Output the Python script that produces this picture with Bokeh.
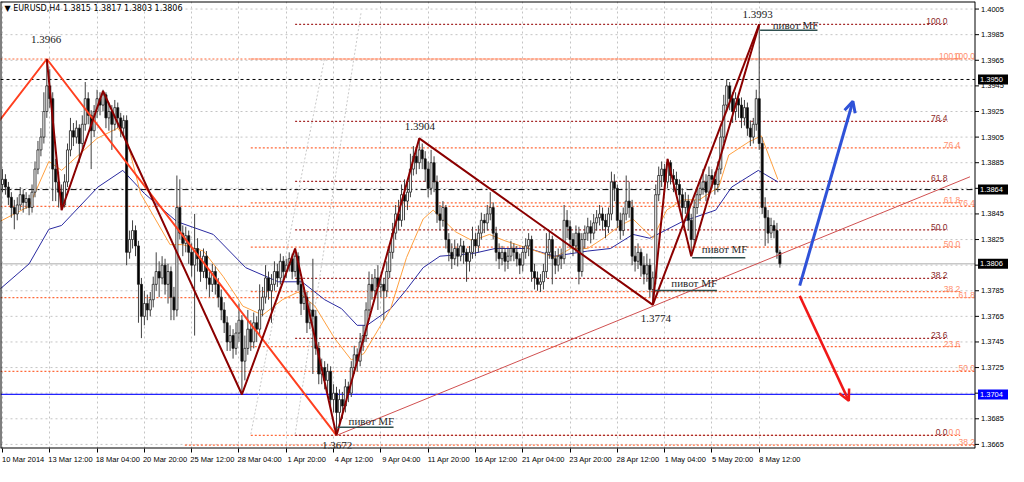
from bokeh.plotting import figure
from bokeh.models import (FixedTicker, Range1d, Label, Arrow, OpenHead, ColumnDataSource)
from bokeh.core.properties import value
from bokeh.embed import file_html
from bokeh.resources import INLINE

# ---------------- data ----------------
first_open = 1.3868
close = [1.3872, 1.3866, 1.3858, 1.3850, 1.3845, 1.3852, 1.3860, 1.3854, 1.3857, 1.3850,
         1.3862, 1.3880, 1.3895, 1.3905, 1.3925, 1.3945, 1.3935, 1.3880, 1.3870, 1.3862,
         1.3852, 1.3870, 1.3895, 1.3910, 1.3905, 1.3912, 1.3900, 1.3915, 1.3935, 1.3922,
         1.3910, 1.3925, 1.3935, 1.3930, 1.3938, 1.3920, 1.3925, 1.3915, 1.3928, 1.3920,
         1.3912, 1.3918, 1.3815, 1.3825, 1.3832, 1.3820, 1.3790, 1.3765, 1.3775, 1.3770,
         1.3778, 1.3790, 1.3800, 1.3795, 1.3805, 1.3790, 1.3800, 1.3780, 1.3770, 1.3850,
         1.3830, 1.3822, 1.3828, 1.3815, 1.3805, 1.3818, 1.3810, 1.3800, 1.3812, 1.3795,
         1.3790, 1.3800, 1.3790, 1.3780, 1.3770, 1.3760, 1.3745, 1.3750, 1.3740, 1.3752,
         1.3762, 1.3730, 1.3740, 1.3755, 1.3745, 1.3760, 1.3755, 1.3770, 1.3780, 1.3795,
         1.3785, 1.3790, 1.3800, 1.3795, 1.3808, 1.3800, 1.3805, 1.3810, 1.3800, 1.3812,
         1.3790, 1.3775, 1.3780, 1.3760, 1.3770, 1.3765, 1.3740, 1.3720, 1.3725, 1.3715,
         1.3722, 1.3700, 1.3705, 1.3690, 1.3700, 1.3695, 1.3710, 1.3705, 1.3725, 1.3735,
         1.3730, 1.3745, 1.3750, 1.3770, 1.3790, 1.3785, 1.3795, 1.3788, 1.3790, 1.3785,
         1.3800, 1.3815, 1.3830, 1.3845, 1.3840, 1.3860, 1.3855, 1.3862, 1.3880, 1.3890,
         1.3885, 1.3895, 1.3888, 1.3880, 1.3865, 1.3885, 1.3870, 1.3845, 1.3840, 1.3850,
         1.3825, 1.3815, 1.3810, 1.3818, 1.3812, 1.3820, 1.3815, 1.3808, 1.3815, 1.3825,
         1.3820, 1.3830, 1.3840, 1.3838, 1.3845, 1.3850, 1.3830, 1.3815, 1.3810, 1.3815,
         1.3808, 1.3812, 1.3818, 1.3815, 1.3810, 1.3805, 1.3815, 1.3820, 1.3825, 1.3800,
         1.3795, 1.3790, 1.3792, 1.3800, 1.3815, 1.3825, 1.3810, 1.3805, 1.3812, 1.3810,
         1.3840, 1.3835, 1.3825, 1.3820, 1.3830, 1.3800, 1.3825, 1.3830, 1.3835, 1.3830,
         1.3838, 1.3842, 1.3845, 1.3840, 1.3835, 1.3845, 1.3870, 1.3865, 1.3840, 1.3832,
         1.3845, 1.3855, 1.3850, 1.3812, 1.3808, 1.3815, 1.3805, 1.3798, 1.3805, 1.3786,
         1.3795, 1.3860, 1.3875, 1.3880, 1.3870, 1.3885, 1.3875, 1.3872, 1.3868, 1.3860,
         1.3850, 1.3855, 1.3840, 1.3825, 1.3850, 1.3860, 1.3865, 1.3870, 1.3862, 1.3875,
         1.3872, 1.3868, 1.3880, 1.3905, 1.3930, 1.3945, 1.3935, 1.3925, 1.3935, 1.3930,
         1.3920, 1.3928, 1.3912, 1.3905, 1.3915, 1.3935, 1.3900, 1.3850, 1.3842, 1.3830,
         1.3836, 1.3832, 1.3815, 1.3806]
high = [1.3880, 1.3876, 1.3870, 1.3862, 1.3856, 1.3858, 1.3866, 1.3864, 1.3862, 1.3860,
        1.3868, 1.3886, 1.3902, 1.3912, 1.3940, 1.3966, 1.3958, 1.3940, 1.3888, 1.3878,
        1.3868, 1.3876, 1.3900, 1.3920, 1.3916, 1.3918, 1.3915, 1.3922, 1.3948, 1.3940,
        1.3926, 1.3930, 1.3942, 1.3940, 1.3942, 1.3940, 1.3932, 1.3930, 1.3934, 1.3932,
        1.3924, 1.3922, 1.3922, 1.3832, 1.3840, 1.3836, 1.3824, 1.3795, 1.3785, 1.3782,
        1.3784, 1.3796, 1.3815, 1.3808, 1.3812, 1.3810, 1.3806, 1.3804, 1.3788, 1.3875,
        1.3872, 1.3836, 1.3835, 1.3832, 1.3822, 1.3845, 1.3826, 1.3816, 1.3818, 1.3816,
        1.3800, 1.3806, 1.3804, 1.3795, 1.3786, 1.3776, 1.3765, 1.3758, 1.3755, 1.3760,
        1.3775, 1.3766, 1.3750, 1.3770, 1.3762, 1.3768, 1.3765, 1.3790, 1.3788, 1.3805,
        1.3800, 1.3798, 1.3808, 1.3806, 1.3814, 1.3812, 1.3810, 1.3815, 1.3814, 1.3818,
        1.3815, 1.3794, 1.3788, 1.3784, 1.3776, 1.3810, 1.3770, 1.3745, 1.3732, 1.3730,
        1.3728, 1.3726, 1.3712, 1.3710, 1.3708, 1.3706, 1.3716, 1.3714, 1.3730, 1.3742,
        1.3740, 1.3752, 1.3758, 1.3776, 1.3800, 1.3798, 1.3802, 1.3805, 1.3797, 1.3795,
        1.3808, 1.3822, 1.3838, 1.3852, 1.3856, 1.3868, 1.3872, 1.3870, 1.3892, 1.3898,
        1.3896, 1.3904, 1.3900, 1.3894, 1.3886, 1.3895, 1.3890, 1.3875, 1.3852, 1.3855,
        1.3852, 1.3830, 1.3822, 1.3825, 1.3822, 1.3826, 1.3824, 1.3818, 1.3820, 1.3835,
        1.3830, 1.3836, 1.3846, 1.3845, 1.3852, 1.3862, 1.3854, 1.3835, 1.3822, 1.3820,
        1.3818, 1.3818, 1.3824, 1.3822, 1.3820, 1.3814, 1.3820, 1.3826, 1.3830, 1.3828,
        1.3806, 1.3800, 1.3798, 1.3806, 1.3830, 1.3832, 1.3828, 1.3816, 1.3818, 1.3818,
        1.3852, 1.3848, 1.3840, 1.3830, 1.3836, 1.3835, 1.3830, 1.3836, 1.3842, 1.3840,
        1.3845, 1.3848, 1.3852, 1.3850, 1.3845, 1.3850, 1.3878, 1.3876, 1.3868, 1.3846,
        1.3850, 1.3875, 1.3870, 1.3856, 1.3820, 1.3822, 1.3818, 1.3812, 1.3814, 1.3810,
        1.3800, 1.3868, 1.3882, 1.3886, 1.3884, 1.3888, 1.3887, 1.3880, 1.3878, 1.3872,
        1.3865, 1.3862, 1.3860, 1.3845, 1.3856, 1.3866, 1.3872, 1.3880, 1.3876, 1.3882,
        1.3880, 1.3878, 1.3886, 1.3912, 1.3938, 1.3950, 1.3948, 1.3940, 1.3940, 1.3938,
        1.3936, 1.3934, 1.3932, 1.3918, 1.3920, 1.3942, 1.3993, 1.3905, 1.3858, 1.3848,
        1.3842, 1.3840, 1.3838, 1.3817]
low = [1.3862, 1.3860, 1.3852, 1.3842, 1.3833, 1.3840, 1.3848, 1.3846, 1.3849, 1.3844,
       1.3846, 1.3858, 1.3876, 1.3890, 1.3900, 1.3920, 1.3928, 1.3855, 1.3855, 1.3850,
       1.3848, 1.3850, 1.3866, 1.3890, 1.3898, 1.3900, 1.3885, 1.3895, 1.3910, 1.3915,
       1.3880, 1.3905, 1.3920, 1.3922, 1.3925, 1.3912, 1.3910, 1.3895, 1.3910, 1.3912,
       1.3905, 1.3906, 1.3805, 1.3810, 1.3818, 1.3812, 1.3760, 1.3748, 1.3758, 1.3762,
       1.3765, 1.3772, 1.3785, 1.3780, 1.3790, 1.3782, 1.3775, 1.3762, 1.3762, 1.3765,
       1.3825, 1.3812, 1.3815, 1.3806, 1.3796, 1.3750, 1.3800, 1.3792, 1.3795, 1.3786,
       1.3780, 1.3784, 1.3782, 1.3772, 1.3762, 1.3752, 1.3738, 1.3738, 1.3732, 1.3735,
       1.3745, 1.3704, 1.3715, 1.3735, 1.3738, 1.3740, 1.3745, 1.3750, 1.3765, 1.3775,
       1.3778, 1.3760, 1.3785, 1.3788, 1.3790, 1.3792, 1.3795, 1.3800, 1.3794, 1.3796,
       1.3785, 1.3766, 1.3770, 1.3752, 1.3755, 1.3720, 1.3735, 1.3712, 1.3712, 1.3708,
       1.3705, 1.3692, 1.3690, 1.3672, 1.3680, 1.3685, 1.3690, 1.3698, 1.3702, 1.3720,
       1.3722, 1.3726, 1.3738, 1.3745, 1.3765, 1.3778, 1.3780, 1.3770, 1.3780, 1.3762,
       1.3780, 1.3795, 1.3810, 1.3825, 1.3832, 1.3835, 1.3840, 1.3848, 1.3858, 1.3875,
       1.3876, 1.3880, 1.3880, 1.3870, 1.3858, 1.3860, 1.3862, 1.3838, 1.3832, 1.3835,
       1.3818, 1.3808, 1.3802, 1.3805, 1.3804, 1.3808, 1.3806, 1.3792, 1.3800, 1.3810,
       1.3812, 1.3815, 1.3825, 1.3830, 1.3832, 1.3840, 1.3825, 1.3808, 1.3802, 1.3805,
       1.3800, 1.3802, 1.3808, 1.3808, 1.3804, 1.3798, 1.3800, 1.3810, 1.3812, 1.3792,
       1.3786, 1.3785, 1.3784, 1.3786, 1.3795, 1.3810, 1.3790, 1.3798, 1.3800, 1.3802,
       1.3806, 1.3826, 1.3818, 1.3812, 1.3815, 1.3790, 1.3796, 1.3818, 1.3824, 1.3822,
       1.3825, 1.3832, 1.3836, 1.3832, 1.3826, 1.3830, 1.3840, 1.3855, 1.3834, 1.3825,
       1.3828, 1.3840, 1.3842, 1.3805, 1.3800, 1.3802, 1.3796, 1.3790, 1.3792, 1.3780,
       1.3774, 1.3790, 1.3855, 1.3866, 1.3862, 1.3865, 1.3868, 1.3862, 1.3860, 1.3852,
       1.3842, 1.3845, 1.3832, 1.3812, 1.3820, 1.3845, 1.3855, 1.3860, 1.3855, 1.3858,
       1.3865, 1.3860, 1.3862, 1.3876, 1.3900, 1.3925, 1.3926, 1.3916, 1.3918, 1.3920,
       1.3912, 1.3914, 1.3906, 1.3898, 1.3900, 1.3910, 1.3895, 1.3845, 1.3820, 1.3822,
       1.3826, 1.3826, 1.3810, 1.3803]

# moving averages (control points: bar index, price)
ma_fast_bar = [-1, 9, 15.7, 20, 32, 39, 42.3, 46.7, 56.7, 61, 68, 74.7, 81.3, 88, 94.7, 100,
               105.7, 112.3, 118, 122.3, 131.3, 136.7, 142.3, 145.7, 153.3, 159, 164.7, 170,
               178, 186.7, 192.3, 198, 203.3, 209, 213.3, 220, 224.7, 230, 235.7, 242.3,
               245.7, 252.3, 256.7, 262.3]
ma_fast_val = [1.3839, 1.3851, 1.3886, 1.3879, 1.3904, 1.3912, 1.3901, 1.3861, 1.3821, 1.3821,
               1.3816, 1.3796, 1.3773, 1.3766, 1.3778, 1.3784, 1.3773, 1.3748, 1.3731, 1.3736,
               1.3771, 1.3811, 1.3841, 1.3848, 1.3831, 1.3824, 1.3829, 1.3824, 1.3818, 1.3811,
               1.3818, 1.3818, 1.3826, 1.3836, 1.3841, 1.3826, 1.3848, 1.3856, 1.3856, 1.3866,
               1.3891, 1.3901, 1.3906, 1.3872]
ma_slow_bar = [-1, 9, 15.7, 20, 32.3, 40.7, 48, 59, 71.3, 82.3, 93.3, 101.3, 109, 114.7, 120,
               123.3, 131.3, 136.7, 142.3, 148, 159, 166.7, 178, 186.7, 198, 205.7, 213.3, 219,
               230, 241.3, 246.7, 255.7, 262.3]
ma_slow_val = [1.3786, 1.3806, 1.3833, 1.3836, 1.3866, 1.3879, 1.3861, 1.3839, 1.3829, 1.3803,
               1.3792, 1.3792, 1.3778, 1.3771, 1.3758, 1.3758, 1.3771, 1.3786, 1.3803, 1.3812,
               1.3814, 1.3818, 1.3818, 1.3812, 1.3816, 1.3818, 1.3829, 1.3826, 1.3839, 1.3848,
               1.3866, 1.3879, 1.3870]

# zigzags / trend line (bar index, price)
zig_bar = [15, 20, 34, 81, 99, 113, 141, 220, 225, 233, 256]
zig_val = [1.3966, 1.3848, 1.3941, 1.3704, 1.3818, 1.3672, 1.3904, 1.3774, 1.3888, 1.3812, 1.3993]
zig2_bar = [220, 256]
zig2_val = [1.3774, 1.3993]
red_bar = [-1, 15, 113]
red_val = [1.3918, 1.3966, 1.3672]
trend_bar = [113, 327.3]
trend_val = [1.3672, 1.3874]
fan_bar = [[84, 109], [99, 121.3]]
fan_val = [[1.3673, 1.3967], [1.3673, 1.4002]]

# horizontal levels
lvl_black_dash = 1.3950
lvl_black_dashdot = 1.3864
lvl_blue = 1.3704
lvl_last = 1.3806

# fibonacci sets: (price at 0 %, price at 100 %, first bar, last bar, levels)
fib_pct = [0.0, 23.6, 38.2, 50.0, 61.8, 76.4, 100.0]
fib_dark = (1.3672, 1.3993, 99, 319.7, fib_pct)
fib_orange_a = (1.3672, 1.3966, 84, 324, fib_pct)
fib_orange_b = (1.3478, 1.3966, -0.7, 329, [38.2, 50.0, 61.8, 76.4, 100.0])
fib_b_start = [61.7, -0.7, -0.7, -0.7, -0.7]

# price labels & pivot notes
price_lbl_bar = [14.8, 141.2, 221, 113.2, 255.5]
price_lbl_val = [1.39811, 1.39134, 1.37634, 1.36643, 1.40004]
price_lbl_txt = ["1.3966", "1.3904", "1.3774", "1.3672", "1.3993"]
pivot_txt_bar = [124.8, 234, 244.3, 268.3]
pivot_txt_val = [1.36829, 1.37912, 1.38176, 1.39929]
pivot_line_x0 = [113.3, 220.7, 233.3, 256.3]
pivot_line_x1 = [132.3, 241.7, 251.3, 275.7]
pivot_line_val = [1.36784, 1.37852, 1.38108, 1.39884]

# arrows (bar, price)
arrow_up = (269.7, 1.3789, 287.7, 1.3933)
arrow_dn = (269.7, 1.3781, 286.3, 1.3699)

# axes
price_ticks = [1.3665, 1.3685, 1.3705, 1.3725, 1.3745, 1.3765, 1.3785, 1.3805, 1.3825,
               1.3845, 1.3865, 1.3885, 1.3905, 1.3925, 1.3945, 1.3965, 1.3985, 1.4005]
date_bars = [0, 16, 32, 48, 64, 80, 96, 112, 128, 144, 160, 176, 192, 208, 224, 240, 256]
date_labels = ["10 Mar 2014", "13 Mar 12:00", "18 Mar 04:00", "20 Mar 20:00", "25 Mar 12:00",
               "28 Mar 04:00", "1 Apr 20:00", "4 Apr 12:00", "9 Apr 04:00", "11 Apr 20:00",
               "16 Apr 12:00", "21 Apr 04:00", "23 Apr 20:00", "28 Apr 12:00", "1 May 04:00",
               "5 May 20:00", "8 May 12:00"]
hl_val = [1.3950, 1.3864, 1.3806, 1.3704]
hl_txt = ["1.3950", "1.3864", "1.3806", "1.3704"]
hl_bg = ["black", "black", "black", "#0000FF"]
title_txt = "\u25bc EURUSD,H4  1.3815 1.3817 1.3803 1.3806"

# ---------------- figure ----------------
W, H = 1008, 466
X0 = -0.67            # left edge of the chart
XF = 329.0            # right edge of the price frame (price scale drawn to its right)
PXB = 2.956           # pixels per bar
X1 = X0 + W / PXB     # canvas right edge
Y0, Y1 = 1.36618, 1.40109
p = figure(width=W, height=H, x_range=Range1d(X0, X1), y_range=Range1d(Y0, Y1),
           y_axis_location=None, output_backend="svg", toolbar_location=None,
           min_border_left=0, min_border_top=1, min_border_right=0, min_border_bottom=0,
           background_fill_color="white", border_fill_color="white")
p.outline_line_color = None

AX_FONT = "Liberation Sans"
AX_SIZE = "7.5px"
# x axis: labels start at their tick marks
lbl_pos = [b + 7 for b in date_bars]
p.xaxis.ticker = FixedTicker(ticks=lbl_pos, minor_ticks=date_bars)
p.xaxis.major_label_overrides = {pos: t for pos, t in zip(lbl_pos, date_labels)}
p.xaxis.major_tick_line_color = None
p.xaxis.major_tick_out = 3
p.xaxis.major_tick_in = 0
p.xaxis.minor_tick_line_color = "black"
p.xaxis.minor_tick_out = 4
p.xaxis.minor_tick_in = 0
p.xaxis.major_label_standoff = 2
p.xaxis.major_label_text_font = AX_FONT
p.xaxis.major_label_text_font_size = AX_SIZE
p.xaxis.major_label_text_color = "black"
p.xaxis.axis_line_color = None

p.xgrid.ticker = FixedTicker(ticks=date_bars)
p.xgrid.grid_line_color = "#C4C4C4"
p.xgrid.grid_line_dash = "2 3"
p.ygrid.visible = False

# horizontal grid (price ticks) limited to the chart frame
p.segment(x0=[X0] * len(price_ticks), y0=price_ticks, x1=[XF] * len(price_ticks),
          y1=price_ticks, line_color="#C4C4C4", line_width=1, line_dash="2 3")

# horizontal level lines
p.segment(x0=[X0], y0=[lvl_last], x1=[XF], y1=[lvl_last], line_color="#C8C8C8", line_width=1.5)
p.segment(x0=[X0], y0=[lvl_black_dash], x1=[XF], y1=[lvl_black_dash], line_color="black",
          line_width=1, line_dash="3 3")
p.segment(x0=[X0], y0=[lvl_black_dashdot], x1=[XF], y1=[lvl_black_dashdot], line_color="black",
          line_width=1, line_dash="6 3 2 3")
p.segment(x0=[X0], y0=[lvl_blue], x1=[XF], y1=[lvl_blue], line_color="#2323FF", line_width=1.3)

# fibonacci levels
def fib_set(spec, starts, line_color, text_color):
    lo, hi, b0, b1, pcts = spec
    ys = [lo + (hi - lo) * q / 100.0 for q in pcts]
    x0s = starts if starts is not None else [b0] * len(pcts)
    p.segment(x0=x0s, y0=ys, x1=[b1] * len(pcts), y1=ys, line_color=line_color,
              line_width=1.2, line_dash="2 2")
    p.text(x=[b1] * len(pcts), y=ys, text=["%.1f" % q for q in pcts],
           text_font=value(AX_FONT), text_font_size="8.5px", text_color=text_color,
           text_align="right", text_baseline="bottom")

fib_set(fib_orange_b, fib_b_start, "#FF6A3A", "#FF9070")
fib_set(fib_orange_a, None, "#FF6A3A", "#FF9070")
fib_set(fib_dark, None, "#A52A2A", "#8B2A2A")

# faint fan lines
for fx, fy in zip(fan_bar, fan_val):
    p.line(fx, fy, line_color="#C8C8C8", line_width=1, line_dash="2 2")

# moving averages
p.line(ma_slow_bar, ma_slow_val, line_color="#2A2AA0", line_width=1)
p.line(ma_fast_bar, ma_fast_val, line_color="#FFA040", line_width=1)

# candles
n = min(len(close), len(high), len(low))
opens = [first_open] + close[:n - 1]
src = ColumnDataSource(dict(
    x=list(range(n)), h=high[:n], l=low[:n],
    top=[max(o, c) for o, c in zip(opens, close[:n])],
    bot=[min(o, c) for o, c in zip(opens, close[:n])],
    fill=["white" if c >= o else "black" for o, c in zip(opens, close[:n])]))
p.segment(x0="x", y0="l", x1="x", y1="h", source=src, line_color="#404040", line_width=1)
p.vbar(x="x", width=0.7, top="top", bottom="bot", source=src, fill_color="fill",
       line_color="#1E1E1E", line_width=0.8)

# zigzags
p.line(red_bar, red_val, line_color="#FF4020", line_width=2)
p.line(zig_bar, zig_val, line_color="#8B0000", line_width=2)
p.line(zig2_bar, zig2_val, line_color="#8B0000", line_width=2)
p.line(trend_bar, trend_val, line_color="#D05050", line_width=1)

# arrows
p.add_layout(Arrow(end=OpenHead(size=11, line_color="#2F52D8", line_width=3),
                   x_start=arrow_up[0], y_start=arrow_up[1], x_end=arrow_up[2], y_end=arrow_up[3],
                   line_color="#2F52D8", line_width=3))
p.add_layout(Arrow(end=OpenHead(size=11, line_color="#F01818", line_width=2.5),
                   x_start=arrow_dn[0], y_start=arrow_dn[1], x_end=arrow_dn[2], y_end=arrow_dn[3],
                   line_color="#F01818", line_width=2.5))

# pivot notes
p.segment(x0=pivot_line_x0, y0=pivot_line_val, x1=pivot_line_x1, y1=pivot_line_val,
          line_color="#2F4F4F", line_width=1.5)
p.text(x=pivot_txt_bar, y=pivot_txt_val, text=["пивот MF"] * len(pivot_txt_bar),
       text_font=value("Liberation Serif"), text_font_size="11px", text_color="#2A2A2A",
       text_align="center", text_baseline="middle")
p.text(x=price_lbl_bar, y=price_lbl_val, text=price_lbl_txt,
       text_font=value("Liberation Serif"), text_font_size="11px", text_color="#1A1A1A",
       text_align="center", text_baseline="middle")

# blank the price-scale area, then draw frame and price scale
p.quad(left=[XF], right=[X1], bottom=[Y0], top=[Y1], fill_color="white", line_color=None)
p.segment(x0=[X0, X0, X0, XF], y0=[Y0, Y1, Y0, Y0], x1=[XF, XF, X0, XF], y1=[Y0, Y1, Y1, Y1],
          line_color="black", line_width=[2, 2, 2, 1])
p.segment(x0=[XF] * len(price_ticks), y0=price_ticks, x1=[XF + 4 / PXB] * len(price_ticks),
          y1=price_ticks, line_color="black", line_width=1)
p.text(x=[XF + 6 / PXB] * len(price_ticks), y=price_ticks,
       text=["%.4f" % t for t in price_ticks], text_font=value(AX_FONT),
       text_font_size=AX_SIZE, text_color="black", text_align="left", text_baseline="middle")
p.rect(x=[XF + 18.5 / PXB] * len(hl_val), y=hl_val, width=31, height=10,
       width_units="screen", height_units="screen", fill_color=hl_bg, line_color=None)
p.text(x=[XF + 5 / PXB] * len(hl_val), y=hl_val, text=hl_txt, text_font=value(AX_FONT),
       text_font_size=AX_SIZE, text_color="white", text_align="left", text_baseline="middle")

# title
p.add_layout(Label(x=X0, y=Y1, x_offset=4, y_offset=-2, text=title_txt, text_color="black",
                   text_font="DejaVu Sans", text_font_size="8px", text_baseline="top",
                   text_align="left"))

open("out.html", "w").write(file_html(p, INLINE))
